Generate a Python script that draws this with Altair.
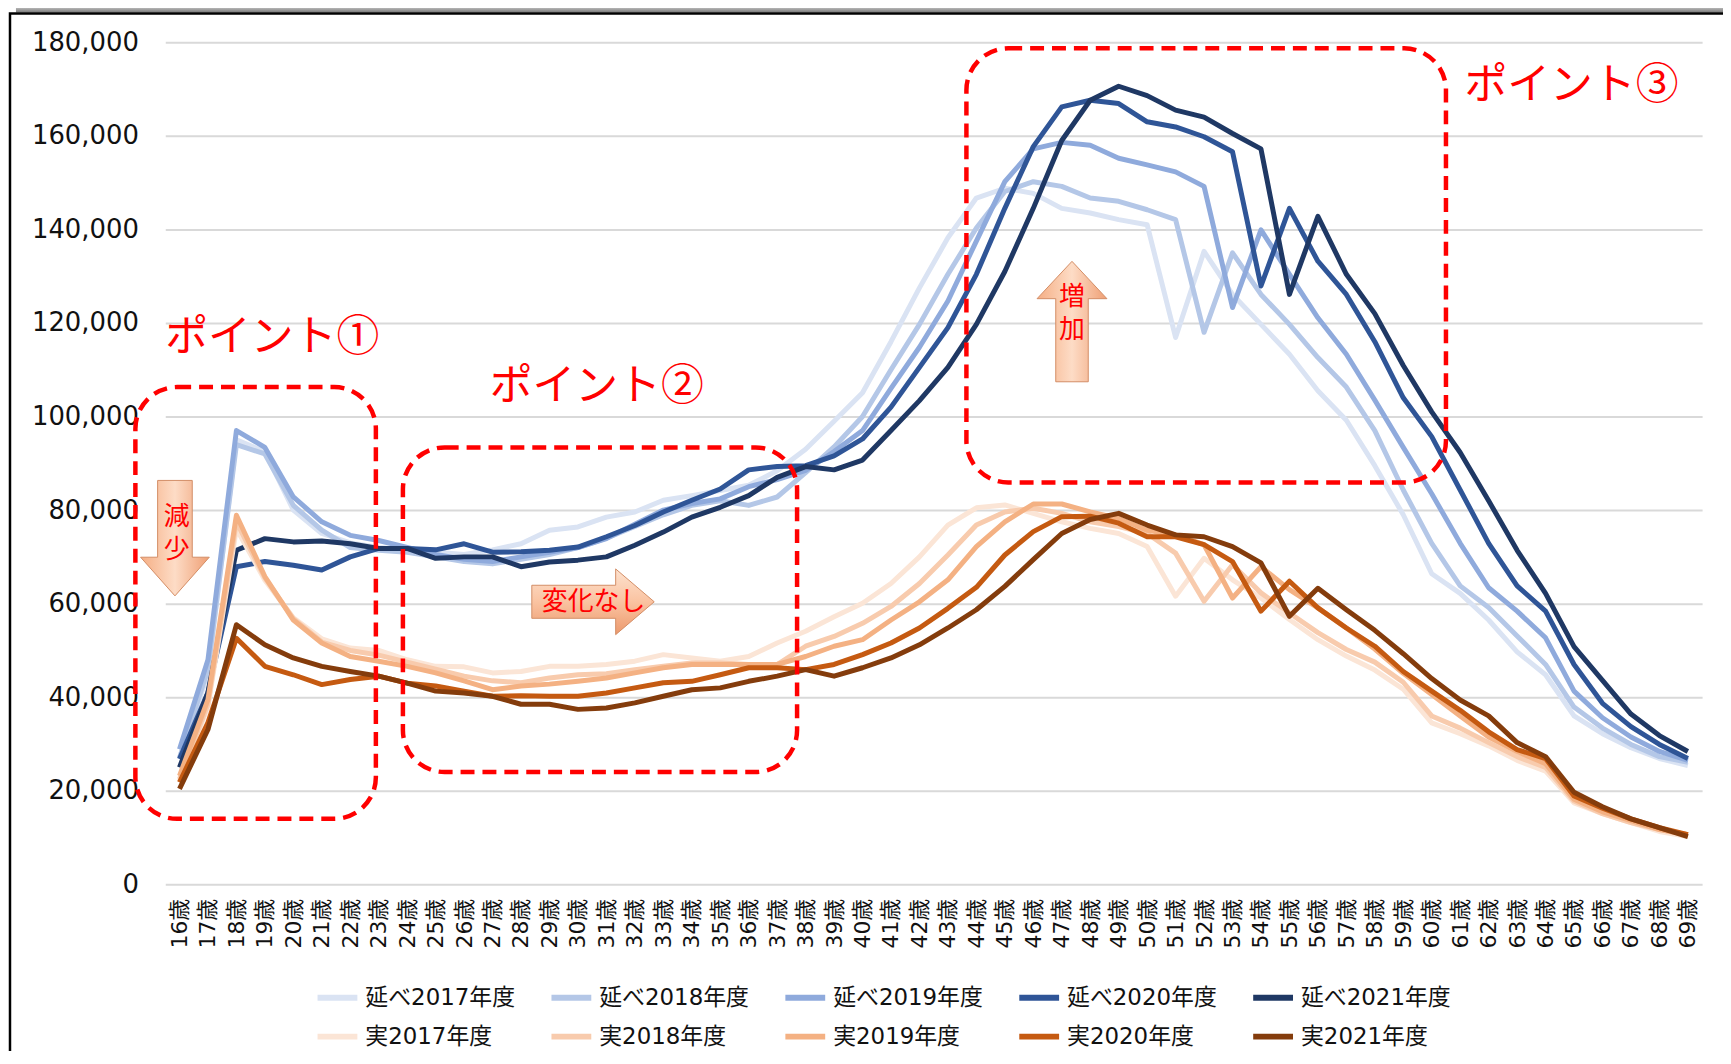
import altair as alt
import pandas as pd

# ---------------- data ----------------
ages = list(range(16, 70))

series_names = ["延べ2017年度", "延べ2018年度", "延べ2019年度", "延べ2020年度", "延べ2021年度",
                "実2017年度", "実2018年度", "実2019年度", "実2020年度", "実2021年度"]
series_colors = ["#dae3f3", "#b4c7e7", "#8faadc", "#2f5597", "#1f3864",
                 "#fbe5d6", "#f8cbad", "#f4b183", "#c55a11", "#843c0c"]

nobe_2017 = [27000, 45000, 95000, 92500, 80000, 75000, 73000, 72000, 71500, 71000,
             70500, 71500, 72800, 75700, 76400, 78500, 79600, 82100, 83100, 84200,
             85300, 88400, 93000, 99000, 105100, 116000, 127500, 138200, 146700, 148800,
             147700, 144500, 143500, 142100, 141000, 116900, 135300, 126100, 119700, 113300,
             105500, 99200, 89500, 79000, 66400, 62200, 56500, 49700, 44800, 36000,
             32200, 29200, 26900, 25400]
nobe_2018 = [27000, 46000, 94000, 92000, 81000, 75700, 72000, 71400, 71000, 70000,
             69000, 68500, 69500, 70500, 72000, 74000, 76500, 79000, 81000, 82000,
             81000, 82800, 88000, 93500, 100000, 110000, 119700, 130400, 140300, 148100,
             150200, 149200, 146700, 146000, 144200, 142100, 118000, 135000, 126100, 119700,
             112600, 106300, 97000, 84300, 72900, 63800, 59200, 53100, 47000, 37900,
             33400, 29900, 27300, 26100]
nobe_2019 = [28900, 48000, 97000, 93400, 82800, 77500, 74600, 73500, 72000, 70500,
             69500, 69000, 70000, 71000, 72000, 73900, 77000, 80000, 81400, 82400,
             85000, 86500, 88500, 92500, 97000, 106000, 114800, 124700, 137500, 150200,
             157200, 158600, 158000, 155200, 153800, 152300, 149200, 123300, 139900, 130400,
             121100, 113300, 103500, 93400, 83500, 72900, 63400, 58400, 52700, 41300,
             35600, 31500, 28400, 26500]
nobe_2020 = [26800, 41000, 67900, 69000, 68200, 67200, 70000, 71800, 71800, 71500,
             72800, 71000, 71100, 71400, 72100, 74300, 76700, 79600, 82100, 84500,
             88600, 89300, 89500, 91600, 95200, 102000, 110500, 119000, 130400, 144500,
             157700, 166200, 167600, 166900, 163000, 161900, 159800, 156600, 127900, 144500,
             133200, 126100, 116000, 104000, 95700, 84300, 72900, 63800, 58400, 47000,
             38700, 33700, 29900, 26900]
nobe_2021 = [25000, 41000, 71400, 73900, 73200, 73400, 72800, 71800, 71800, 69700,
             70000, 70000, 67900, 68900, 69300, 70000, 72500, 75300, 78500, 80600,
             83100, 87000, 89300, 88600, 90700, 97000, 103400, 110500, 119700, 131000,
             144500, 159000, 167600, 170600, 168600, 165500, 164000, 160500, 157200, 126100,
             142800, 130400, 122000, 110900, 101000, 92300, 82000, 71400, 62200, 50800,
             43600, 36400, 31800, 28400]
jitsu_2017 = [22000, 38000, 76000, 65000, 57000, 52500, 50500, 50000, 48000, 46600,
              46500, 45200, 45500, 46600, 46600, 47000, 47700, 49100, 48400, 47700,
              48700, 51600, 54100, 57200, 60100, 64300, 70000, 76800, 80500, 81100,
              79300, 77500, 76100, 75000, 72200, 61600, 69700, 65100, 61200, 56600,
              52300, 48800, 45800, 41700, 34500, 32200, 29600, 26500, 24200, 17400,
              15100, 13200, 11300, 10200]
jitsu_2018 = [22500, 38500, 77500, 65500, 56800, 51800, 50000, 49000, 47500, 46000,
              44500, 43500, 43100, 44100, 44800, 45000, 45900, 46600, 47300, 47300,
              47000, 47000, 50900, 53000, 55800, 59400, 64300, 70400, 76800, 79600,
              80400, 79300, 77500, 76500, 75000, 70800, 60500, 68300, 62300, 58000,
              53800, 50200, 47500, 43200, 36000, 33400, 30300, 27300, 25000, 17800,
              15100, 13200, 11700, 10600]
jitsu_2019 = [23200, 39500, 78900, 65800, 56500, 51600, 48700, 47700, 46600, 45200,
              43500, 41600, 42400, 42800, 43400, 44100, 45200, 46300, 47000, 47000,
              47000, 47000, 48700, 50900, 52300, 56500, 60400, 65100, 72200, 77500,
              81300, 81300, 79600, 78200, 75700, 74700, 72600, 61200, 67900, 63000,
              59100, 54800, 50300, 45100, 40600, 36000, 31500, 28400, 25800, 18200,
              15500, 13600, 11700, 10600]
jitsu_2020 = [21800, 34600, 52600, 46600, 44800, 42700, 43800, 44500, 43000, 42400,
              41300, 40200, 40300, 40200, 40200, 40900, 42000, 43100, 43400, 44800,
              46300, 46300, 45900, 47000, 49100, 51600, 54800, 59000, 63500, 70400,
              75400, 78600, 78700, 77200, 74300, 74300, 72600, 69000, 58400, 64800,
              59100, 54800, 50900, 45500, 41300, 37200, 32600, 28800, 26900, 18900,
              16300, 14000, 12100, 10600]
jitsu_2021 = [20400, 33100, 55500, 51200, 48400, 46600, 45500, 44500, 43000, 41300,
              40900, 40200, 38500, 38500, 37400, 37700, 38800, 40200, 41600, 42000,
              43400, 44500, 45900, 44500, 46300, 48400, 51200, 54800, 58700, 63700,
              69400, 75000, 78000, 79300, 76800, 74700, 74300, 72200, 68700, 57300,
              63300, 58700, 54300, 49300, 44000, 39400, 36000, 30300, 27300, 19700,
              16600, 14000, 12100, 10200]

all_series = [nobe_2017, nobe_2018, nobe_2019, nobe_2020, nobe_2021,
              jitsu_2017, jitsu_2018, jitsu_2019, jitsu_2020, jitsu_2021]

y_ticks = list(range(0, 180001, 20000))

# annotation content
point_labels = ["ポイント①", "ポイント②", "ポイント③"]
arrow_chars = ["減", "少", "変化なし", "増", "加"]

rows = []
for name, vals in zip(series_names, all_series):
    if len(vals) != len(ages):
        raise ValueError(f"{name}: {len(vals)} values")
    for a, v in zip(ages, vals):
        rows.append({"series": name, "age": a, "value": v})
df = pd.DataFrame(rows)

# ---------------- styling ----------------
FONT_NUM = "'DejaVu Sans', 'Noto Sans CJK JP', sans-serif"
FONT_JP = "'Noto Sans CJK JP', sans-serif"
RED = "#ff0000"

W, H = 1544, 846
x_scale = alt.Scale(domain=[15.5, 69.5], nice=False, zero=False)
y_scale = alt.Scale(domain=[0, 180000], nice=False, zero=True)

x_axis = alt.Axis(values=ages, labelExpr="datum.value + '歳'", labelAngle=-90,
                  grid=False, domain=False, ticks=False, tickSize=0,
                  labelPadding=14, labelFont=FONT_NUM, labelFontSize=22,
                  labelColor="#111111", labelOverlap=False, labelFlush=False)
y_axis = alt.Axis(values=y_ticks, labelExpr="format(datum.value, ',')", grid=True,
                  gridColor="#d9d9d9", gridWidth=2, domain=False, ticks=False, tickSize=0,
                  labelPadding=27, labelFont=FONT_NUM, labelFontSize=26,
                  labelColor="#111111")


def X(field):
    return alt.X(field, type="quantitative", scale=x_scale, title=None, axis=x_axis)


def Y(field):
    return alt.Y(field, type="quantitative", scale=y_scale, title=None, axis=y_axis)


lines = alt.Chart(df).mark_line(strokeWidth=5, strokeJoin="round").encode(
    x=X("age"),
    y=Y("value"),
    color=alt.Color("series:N", sort=series_names,
                    scale=alt.Scale(domain=series_names, range=series_colors),
                    legend=alt.Legend(title=None, orient="none", legendX=150, legendY=937,
                                      columns=5, direction="horizontal",
                                      symbolType="stroke", symbolStrokeWidth=6,
                                      symbolSize=1600, labelFont=FONT_NUM,
                                      labelFontSize=23, labelColor="#111111",
                                      labelOffset=5, columnPadding=24, rowPadding=4,
                                      padding=0, labelLimit=400)),
    detail="series:N",
)

# dashed rounded boxes (data coordinates)
boxes_df = pd.DataFrame({
    "xa": [14.45, 23.85, 43.65],
    "xb": [22.9, 37.7, 60.5],
    "ya": [106300, 93400, 178700],
    "yb": [14000, 24000, 85900],
})
boxes = alt.Chart(boxes_df).mark_rect(
    fill="transparent", stroke=RED, strokeWidth=4.5, strokeDash=[14, 8], cornerRadius=42
).encode(x=X("xa"), x2="xb", y=Y("ya"), y2="yb")

# point titles
pt_df = pd.DataFrame({"label": point_labels,
                      "xa": [15.5, 26.9, 61.15],
                      "ya": [116800, 106300, 170600]})
pt_text = alt.Chart(pt_df).mark_text(
    align="left", baseline="middle", font=FONT_JP, fontSize=43, color=RED
).encode(x=X("xa"), y=Y("ya"), text="label:N")


def grad(horizontal, stops):
    return alt.LinearGradient(
        gradient="linear",
        stops=[alt.GradientStop(color=c, offset=o) for o, c in stops],
        x1=0, y1=0, x2=1 if horizontal else 0, y2=0 if horizontal else 1,
    )


v_stops = [(0, "#f5ae84"), (0.5, "#fddcc6"), (1, "#ef9f74")]
h_stops = [(0, "#fde2cf"), (0.5, "#fac3a1"), (1, "#ec996d")]


def arrow(shape, side, xa, ya, fill):
    d = pd.DataFrame({"xa": [xa], "ya": [ya]})
    return alt.Chart(d).mark_point(
        shape=shape, size=side * side, filled=True, fill=fill, opacity=1,
        stroke="#d38d66", strokeWidth=1
    ).encode(x=X("xa"), y=Y("ya"))


down_shape = "M-0.3,-1 L0.3,-1 L0.3,0.33 L0.595,0.33 L0,1 L-0.595,0.33 L-0.3,0.33 Z"
right_shape = "M-1,-0.27 L0.37,-0.27 L0.37,-0.537 L1,0 L0.37,0.537 L0.37,0.27 L-1,0.27 Z"
up_shape = "M0,-1 L0.58,-0.38 L0.27,-0.38 L0.27,1 L-0.27,1 L-0.27,-0.38 L-0.58,-0.38 Z"

arrow_down = arrow(down_shape, 116, 15.84, 74000, grad(True, v_stops))
arrow_right = arrow(right_shape, 123, 30.53, 60400, grad(False, h_stops))
arrow_up = arrow(up_shape, 121, 47.36, 120300, grad(True, v_stops))

at_df = pd.DataFrame({"label": arrow_chars,
                      "xa": [15.9, 15.9, 30.55, 47.36, 47.36],
                      "ya": [78600, 71400, 60400, 125600, 118400]})
arrow_text = alt.Chart(at_df).mark_text(
    align="center", baseline="middle", font=FONT_JP, fontSize=26, color=RED
).encode(x=X("xa"), y=Y("ya"), text="label:N")

# outer frame of the original picture (decoration)
one = pd.DataFrame({"k": [0]})
frame = alt.Chart(one).mark_rect(fill="transparent", stroke="#000000", strokeWidth=2.5).encode(
    x=alt.value(-156), x2=alt.value(1700), y=alt.value(-29), y2=alt.value(1200)
)
shadow = alt.Chart(one).mark_rect(
    fill=grad(False, [(0, "#ffffff"), (1, "#7a7a7a")]), strokeWidth=0
).encode(
    x=alt.value(-150), x2=alt.value(1700), y=alt.value(-40), y2=alt.value(-30)
)

chart = alt.layer(
    lines, shadow, frame, boxes, arrow_down, arrow_right, arrow_up, arrow_text, pt_text
).properties(
    width=W, height=H,
    padding={"left": 158, "top": 32, "right": 21, "bottom": 165},
    autosize=alt.AutoSizeParams(type="none"),
    background="#ffffff",
).configure_view(strokeWidth=0)

chart.save("out.html", embed_options={"renderer": "svg", "actions": False})
